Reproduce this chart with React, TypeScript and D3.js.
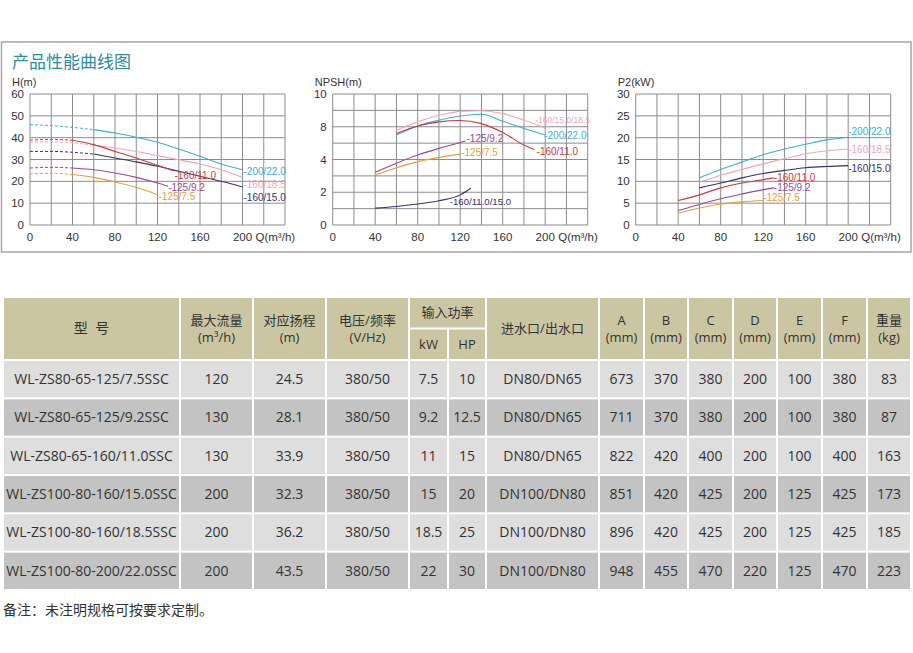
import * as d3 from 'd3'

type Pt = [number, number]

// ---- chart axes ----
const qTicks = [0, 40, 80, 120, 160, 200]
const qGrid = d3.range(0, 241, 20)
const headTicks = [0, 10, 20, 30, 40, 50, 60]
const npshTicks = [0, 2, 4, 8, 10] // printed labels, equally spaced on the original
const npshGrid = [0, 1, 2, 3, 4, 6, 8, 9, 10]
const powerTicks = [0, 5, 10, 15, 20, 25, 30]

// ---- H(m) curves ----
const headLabels = ['-200/22.0', '-160/18.5', '-160/15.0', '-160/11.0', '-125/9.2', '-125/7.5']
const head200_22: Pt[] = [[0, 46], [20, 45.5], [40, 44.7], [60, 43.7], [80, 42.1], [100, 40.2], [120, 37.9], [140, 34.8], [160, 31.5], [180, 27.9], [200, 25.3]]
const head160_185: Pt[] = [[0, 38], [20, 38], [40, 37.6], [60, 36.5], [80, 35.3], [100, 33.7], [120, 31.8], [140, 29.9], [160, 27.9], [180, 25.3], [200, 21.8]]
const head160_15: Pt[] = [[0, 33.7], [20, 33.7], [40, 33.3], [60, 32.5], [80, 30.7], [100, 28.9], [120, 26.9], [140, 24.6], [160, 22.3], [180, 20], [200, 17.4]]
const head160_11: Pt[] = [[0, 38.9], [20, 39.2], [40, 38.8], [60, 36.8], [80, 33.7], [100, 30.7], [120, 27.3], [135, 24.9]]
const head125_92: Pt[] = [[0, 26.1], [20, 26.4], [40, 26.1], [60, 25.3], [80, 23.8], [100, 21.8], [120, 19.2], [130, 17.7]]
const head125_75: Pt[] = [[0, 23.4], [20, 23.7], [40, 23.1], [60, 21.8], [80, 19.7], [100, 17.3], [120, 13.9]]
const headDashTo = [60, 60, 60, 40, 40, 40]

// ---- NPSH(m) curves ----
const npshLabels = ['-160/15.0/18.5', '-200/22.0', '-160/11.0', '-125/9.2', '-125/7.5', '-160/11.0/15.0']
const npsh160_15_185: Pt[] = [[60, 7.58], [80, 8.3], [100, 8.7], [120, 8.94], [140, 8.98], [160, 8.8], [180, 8.4], [200, 7.86]]
const npsh200_22: Pt[] = [[60, 6.98], [80, 8.05], [100, 8.4], [120, 8.66], [140, 8.76], [160, 8.34], [180, 7.78], [200, 6.98]]
const npsh160_11: Pt[] = [[60, 7.18], [80, 8.05], [100, 8.3], [120, 8.38], [140, 8.19], [160, 7.3], [180, 5.76], [190, 5.2]]
const npsh125_92: Pt[] = [[40, 3.22], [60, 3.77], [80, 4.54], [100, 5.36], [120, 6.08], [125, 6.25]]
const npsh125_75: Pt[] = [[40, 3.06], [60, 3.5], [80, 3.87], [100, 4.26], [120, 4.66]]
const npsh160_11_15: Pt[] = [[40, 1.03], [60, 1.13], [80, 1.28], [100, 1.48], [120, 1.84], [130, 2.25]]

// ---- P2(kW) curves ----
const powerLabels = ['-200/22.0', '-160/18.5', '-160/15.0', '-160/11.0', '-125/9.2', '-125/7.5']
const power200_22: Pt[] = [[60, 10.8], [80, 12.7], [100, 14.4], [120, 16.1], [140, 17.4], [160, 18.5], [180, 19.5], [200, 20.1]]
const power160_185: Pt[] = [[60, 9.8], [80, 11.4], [100, 12.7], [120, 14.0], [140, 15.2], [160, 16.3], [180, 17.0], [200, 17.4]]
const power160_15: Pt[] = [[60, 8.5], [80, 9.6], [100, 10.8], [120, 11.8], [140, 12.5], [160, 13.1], [180, 13.4], [200, 13.6]]
const power160_11: Pt[] = [[40, 5.6], [60, 6.9], [80, 8.5], [100, 9.6], [120, 10.4], [130, 10.8]]
const power125_92: Pt[] = [[40, 3.3], [60, 4.7], [80, 6.0], [100, 7.1], [120, 8.1], [130, 8.5]]
const power125_75: Pt[] = [[40, 2.7], [60, 3.9], [80, 4.8], [100, 5.3], [120, 5.6]]

// ---- table ----
const tableModels = ['WL-ZS80-65-125/7.5SSC', 'WL-ZS80-65-125/9.2SSC', 'WL-ZS80-65-160/11.0SSC', 'WL-ZS100-80-160/15.0SSC', 'WL-ZS100-80-160/18.5SSC', 'WL-ZS100-80-200/22.0SSC']
const maxFlow = ['120', '130', '130', '200', '200', '200']
const flowHead = ['24.5', '28.1', '33.9', '32.3', '36.2', '43.5']
const voltage = ['380/50', '380/50', '380/50', '380/50', '380/50', '380/50']
const powerKw = ['7.5', '9.2', '11', '15', '18.5', '22']
const powerHp = ['10', '12.5', '15', '20', '25', '30']
const ports = ['DN80/DN65', 'DN80/DN65', 'DN80/DN65', 'DN100/DN80', 'DN100/DN80', 'DN100/DN80']
const dimA = ['673', '711', '822', '851', '896', '948']
const dimB = ['370', '370', '420', '420', '420', '455']
const dimC = ['380', '380', '400', '425', '425', '470']
const dimD = ['200', '200', '200', '200', '200', '220']
const dimE = ['100', '100', '100', '125', '125', '125']
const dimF = ['380', '380', '400', '425', '425', '470']
const weight = ['83', '87', '163', '173', '185', '223']

// ---- styles / layout ----
const C = {
  cyan: '#3aaed8',
  pink: '#f1a6b4',
  navy: '#35316f',
  red: '#c93a3c',
  purple: '#9a4893',
  orange: '#e99d3c',
}
const mainColors = [C.cyan, C.pink, C.navy, C.red, C.purple, C.orange]
const npshColors = [C.pink, C.cyan, C.red, C.purple, C.orange, C.navy]
const headOffsets = [[1, 1.5], [1, 7], [1, 10], [1, 5], [0, 1], [1, 2]]
const npshOffsets = [[-10, -8], [-1, 0], [2, 2], [1, -3], [1, -2], [-21, 13]]
const powerOffsets = [[0, -6], [0, 0], [0, 3], [0, 0], [0, 0], [0, -3]]

const colEdges = [3, 180, 253, 326, 409, 448, 486, 599, 644, 688, 733, 777, 822, 867, 911]
const tableTop = 297
const headMid = 328.5
const headBottom = 360
const tableBottom = 590

const plotTop = 94
const plotBottom = 225
const plotW = 255
const latin = "'Liberation Sans', Arial, sans-serif"
const tableFont = "'Open Sans', 'Noto Sans CJK SC', sans-serif"
const cjk = "'Noto Sans CJK SC', sans-serif"
const gridColor = '#8c8c8c'
const textColor = '#333'

type ChartProps = {
  left: number
  y: d3.ScaleLinear<number, number>
  yTicks: number[]
  yGrid: number[]
  yTitle: string
  series: Pt[][]
  labels: string[]
  colors: string[]
  offsets: number[][]
  dashTo?: number[]
  labelSize?: number[]
}

function Chart({ left, y, yTicks, yGrid, yTitle, series, labels, colors, offsets, dashTo, labelSize }: ChartProps) {
  const x = d3.scaleLinear([0, 240], [left, left + plotW])
  const line = d3
    .line<Pt>(
      (d) => x(d[0]),
      (d) => y(d[1])
    )
    .curve(d3.curveMonotoneX)
  return (
    <g>
      <text x={left - 18} y={86} fontFamily={latin} fontSize={11} fill={textColor}>
        {yTitle}
      </text>
      <g stroke={gridColor} strokeWidth={1}>
        {qGrid.map((q) => (
          <line key={'v' + q} x1={x(q)} x2={x(q)} y1={y(yGrid[yGrid.length - 1])} y2={y(0)} />
        ))}
        {yGrid.map((v) => (
          <line key={'h' + v} x1={x(0)} x2={x(240)} y1={y(v)} y2={y(v)} />
        ))}
      </g>
      <g fontFamily={latin} fontSize={11.5} fill={textColor}>
        {yTicks.map((v) => (
          <text key={v} x={left - 6} y={y(v)} dy="0.35em" textAnchor="end">
            {v}
          </text>
        ))}
        {qTicks.map((q) => (
          <text key={q} x={x(q)} y={241} textAnchor="middle">
            {q}
          </text>
        ))}
        <text x={x(200) + 13} y={241}>
          Q(m³/h)
        </text>
      </g>
      {series.map((pts, i) => {
        const cut = dashTo ? dashTo[i] : -1
        const dashed = pts.filter((d) => d[0] <= cut)
        const solid = pts.filter((d) => d[0] >= cut)
        const end = pts[pts.length - 1]
        return (
          <g key={i}>
            {dashed.length > 1 && (
              <path d={line(dashed) ?? undefined} fill="none" stroke={colors[i]} strokeWidth={1} strokeDasharray="3,2" />
            )}
            <path d={line(solid) ?? undefined} fill="none" stroke={colors[i]} strokeWidth={1.1} />
            <text
              x={x(end[0]) + offsets[i][0]}
              y={y(end[1]) + offsets[i][1]}
              dy="0.35em"
              fontFamily={latin}
              fontSize={labelSize ? labelSize[i] : 10}
              fill={colors[i]}
            >
              {labels[i]}
            </text>
          </g>
        )
      })}
    </g>
  )
}

export default function App() {
  const yHead = d3.scaleLinear([0, 60], [plotBottom, plotTop])
  const step = (plotBottom - plotTop) / 8
  const yNpsh = d3
    .scaleLinear<number, number>()
    .domain(npshTicks)
    .range([plotBottom, plotBottom - 2 * step, plotBottom - 4 * step, plotBottom - 6 * step, plotTop])
  const yPower = d3.scaleLinear([0, 30], [plotBottom, plotTop])

  const rows = d3.scaleBand<number>(d3.range(tableModels.length), [headBottom, tableBottom])
  const columns = [tableModels, maxFlow, flowHead, voltage, powerKw, powerHp, ports, dimA, dimB, dimC, dimD, dimE, dimF, weight]
  const cx = (c: number) => (colEdges[c] + colEdges[c + 1]) / 2

  const headCells: { c0: number; c1: number; y0: number; y1: number; lines: string[] }[] = [
    { c0: 0, c1: 1, y0: tableTop, y1: headBottom, lines: ['型  号'] },
    { c0: 1, c1: 2, y0: tableTop, y1: headBottom, lines: ['最大流量', '(m³/h)'] },
    { c0: 2, c1: 3, y0: tableTop, y1: headBottom, lines: ['对应扬程', '(m)'] },
    { c0: 3, c1: 4, y0: tableTop, y1: headBottom, lines: ['电压/频率', '(V/Hz)'] },
    { c0: 4, c1: 6, y0: tableTop, y1: headMid, lines: ['输入功率'] },
    { c0: 4, c1: 5, y0: headMid, y1: headBottom, lines: ['kW'] },
    { c0: 5, c1: 6, y0: headMid, y1: headBottom, lines: ['HP'] },
    { c0: 6, c1: 7, y0: tableTop, y1: headBottom, lines: ['进水口/出水口'] },
    ...['A', 'B', 'C', 'D', 'E', 'F'].map((t, i) => ({ c0: 7 + i, c1: 8 + i, y0: tableTop, y1: headBottom, lines: [t, '(mm)'] })),
    { c0: 13, c1: 14, y0: tableTop, y1: headBottom, lines: ['重量', '(kg)'] },
  ]

  return (
    <svg width={913} height={653} style={{ position: 'absolute', left: 0, top: 0, background: '#fff' }}>
      <rect x={1.5} y={42} width={909.5} height={210} fill="#fff" stroke="#a6a6a6" strokeWidth={1.5} />
      <text x={12} y={68} fontFamily={cjk} fontSize={17} fill="#2e8c9d">
        产品性能曲线图
      </text>
      <Chart
        left={30}
        y={yHead}
        yTicks={headTicks}
        yGrid={headTicks}
        yTitle="H(m)"
        series={[head200_22, head160_185, head160_15, head160_11, head125_92, head125_75]}
        labels={headLabels}
        colors={mainColors}
        offsets={headOffsets}
        dashTo={headDashTo}
      />
      <Chart
        left={332.7}
        y={yNpsh}
        yTicks={npshTicks}
        yGrid={npshGrid}
        yTitle="NPSH(m)"
        series={[npsh160_15_185, npsh200_22, npsh160_11, npsh125_92, npsh125_75, npsh160_11_15]}
        labels={npshLabels}
        colors={npshColors}
        offsets={npshOffsets}
        labelSize={[8.5, 10, 10, 10, 10, 9.6]}
      />
      <Chart
        left={635.7}
        y={yPower}
        yTicks={powerTicks}
        yGrid={powerTicks}
        yTitle="P2(kW)"
        series={[power200_22, power160_185, power160_15, power160_11, power125_92, power125_75]}
        labels={powerLabels}
        colors={mainColors}
        offsets={powerOffsets}
      />

      {/* table header */}
      <g fontFamily={tableFont} fill={textColor}>
        {headCells.map((h, i) => {
          const x0 = colEdges[h.c0]
          const x1 = colEdges[h.c1]
          const mid = (h.y0 + h.y1) / 2
          return (
            <g key={i}>
              <rect x={x0 + 1} y={h.y0 + 1} width={x1 - x0 - 2} height={h.y1 - h.y0 - 2} fill="#cac6a2" />
              {h.lines.map((t, j) => (
                <text
                  key={j}
                  x={(x0 + x1) / 2}
                  y={h.lines.length === 1 ? mid : mid + (j === 0 ? -8 : 8.5)}
                  dy="0.35em"
                  textAnchor="middle"
                  fontSize={i === 0 ? 14 : 13}
                  style={{ whiteSpace: 'pre' }}
                >
                  {t}
                </text>
              ))}
            </g>
          )
        })}
      </g>

      {/* table body */}
      <g fontFamily={tableFont} fontSize={14} fill={textColor}>
        {tableModels.map((_, r) => (
          <g key={r}>
            {columns.map((col, c) => (
              <g key={c}>
                <rect
                  x={colEdges[c] + 1}
                  y={(rows(r) ?? 0) + 1}
                  width={colEdges[c + 1] - colEdges[c] - 2}
                  height={rows.bandwidth() - 2}
                  fill={r % 2 === 0 ? '#dedede' : '#c3c3c3'}
                />
                <text x={cx(c)} y={(rows(r) ?? 0) + rows.bandwidth() / 2} dy="0.35em" textAnchor="middle">
                  {col[r]}
                </text>
              </g>
            ))}
          </g>
        ))}
      </g>

      <text x={3} y={610} dy="0.35em" fontFamily={cjk} fontSize={14} fill={textColor}>
        备注：未注明规格可按要求定制。
      </text>
    </svg>
  )
}
